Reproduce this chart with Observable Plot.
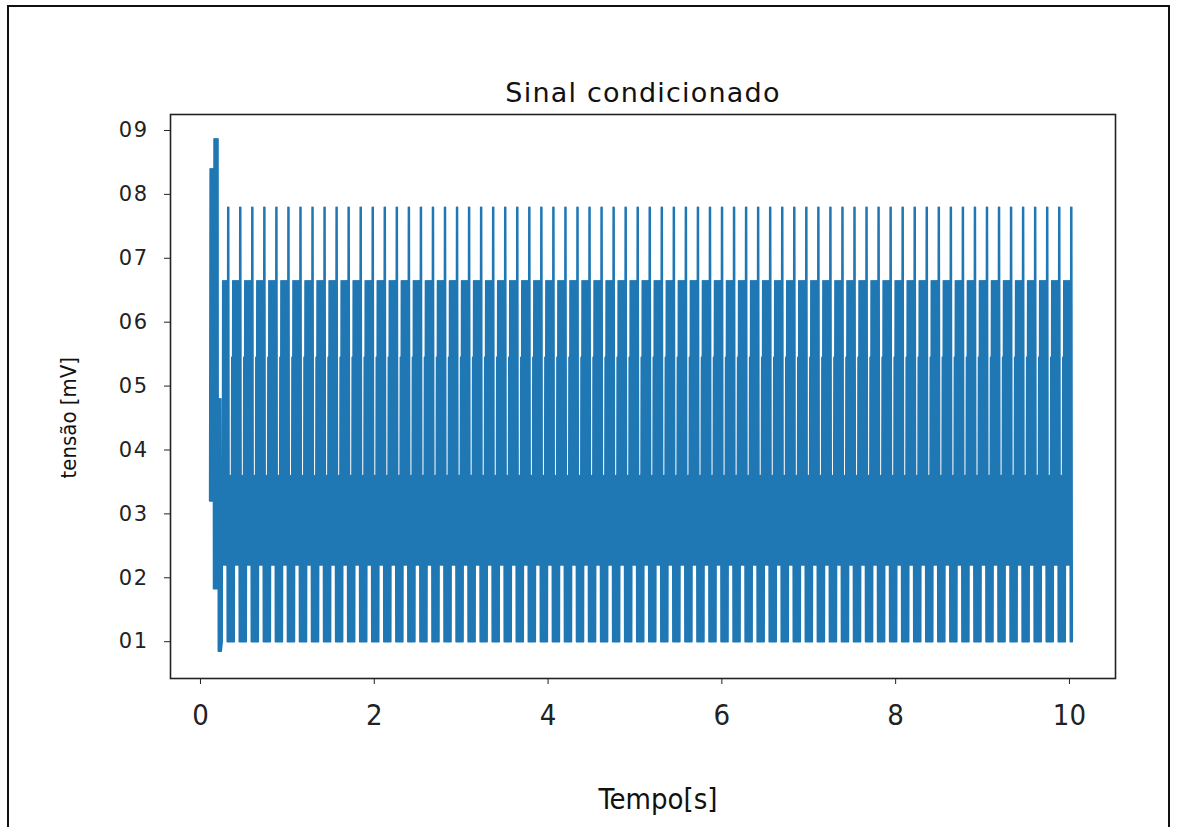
<!DOCTYPE html>
<html><head><meta charset="utf-8">
<script src="https://cdn.jsdelivr.net/npm/d3@7"></script>
<script src="https://cdn.jsdelivr.net/npm/@observablehq/plot@0.6"></script>
<style>
html,body{margin:0;padding:0;background:#fff;}
#wrap{position:relative;width:1177px;height:827px;overflow:hidden;background:#fff;}
#border{position:absolute;left:7px;top:5px;width:1159px;height:850px;border:2px solid #111;pointer-events:none;}
</style></head><body><div id="wrap"><div id="border"></div></div>
<script>
// ---- text ----
const titleText = "Sinal condicionado";
const xLabelText = "Tempo[s]";
const yLabelText = "tensão [mV]";
const xTicks = [0, 2, 4, 6, 8, 10];
const yTicks = [0.1, 0.2, 0.3, 0.4, 0.5, 0.6, 0.7, 0.8, 0.9];
const yTickLabels = ["01", "02", "03", "04", "05", "06", "07", "08", "09"];
const xDomain = [-0.345, 10.53];
const yDomain = [0.0424, 0.925];

// ---- start-up transient (time window, upper and lower level of the fast oscillation) ----
const transientFrom  = [0.105, 0.150, 0.205];
const transientTo    = [0.150, 0.205, 0.245];
const transientUpper = [0.84, 0.887, 0.48];
const transientLower = [0.32, 0.183, 0.085];

// ---- repeating cycle ----
const cycleStart = 0.198;     // s
const cyclePeriod = 0.1386;   // s
const cycleCount = 71;
const samplesPerCycle = 24;
// segments inside one cycle (fraction of period where each starts)
const segFrom  = [0.00, 0.125, 0.25, 0.45, 0.75, 0.79];
const segUpper = [0.36, 0.545, 0.665, 0.665, 0.665, 0.78];
const segLower = [0.10, 0.10, 0.10, 0.22, 0.10, 0.10];

// ---- build the line's table from the arrays above ----
const dt = cyclePeriod / samplesPerCycle;
const data = [];
let n = 0;
for (let s = 0; s < transientFrom.length; s++) {
  for (let t = transientFrom[s]; t < transientTo[s] - 1e-9; t += dt) {
    data.push({t, v: (n++ % 2 === 0) ? transientLower[s] : transientUpper[s]});
  }
}
const tEnd = transientTo[transientTo.length - 1];
for (let k = 0; k < cycleCount; k++) {
  for (let j = 0; j < samplesPerCycle; j++) {
    const frac = j / samplesPerCycle;
    const t = cycleStart + (k + frac) * cyclePeriod;
    if (t < tEnd) continue;
    let s = 0;
    while (s + 1 < segFrom.length && frac >= segFrom[s + 1]) s++;
    data.push({t, v: (j % 2 === 0) ? segUpper[s] : segLower[s]});
  }
}

const condensed = "'DejaVu Sans Condensed', 'Liberation Sans Narrow', 'Roboto Condensed', 'DejaVu Sans', sans-serif";

const chart = Plot.plot({
  width: 1177, height: 827,
  marginLeft: 170, marginRight: 62, marginTop: 114, marginBottom: 149,
  style: {background: "transparent", fontFamily: "'DejaVu Sans', sans-serif", color: "#222"},
  x: {domain: xDomain},
  y: {domain: yDomain},
  marks: [
    Plot.line(data, {x: "t", y: "v", stroke: "#1f77b4", strokeWidth: 1.5}),
    Plot.frame({stroke: "#222", strokeWidth: 1.6}),
    Plot.axisX({ticks: xTicks, tickSize: 6, tickPadding: 20, tickFormat: d => String(d),
      label: null, fontSize: 29, fontFamily: condensed, stroke: "#222"}),
    Plot.axisY({ticks: yTicks, tickSize: 6, tickPadding: 16,
      tickFormat: d => yTickLabels[Math.round(d * 10) - 1],
      label: null, fontSize: 21, stroke: "#222"}),
    Plot.text([titleText], {frameAnchor: "top", dy: -13, lineAnchor: "bottom",
      fontSize: 27, fill: "#111"}),
    Plot.text([xLabelText], {frameAnchor: "bottom", dx: 15, dy: 130, lineAnchor: "bottom",
      fontSize: 29, fontFamily: condensed, fill: "#111"}),
    Plot.text([yLabelText], {frameAnchor: "left", dx: -102, dy: 82, rotate: -90,
      fontSize: 22, fontFamily: condensed, fill: "#111"})
  ]
});
d3.select(chart).selectAll("text")
  .filter(function() { return this.textContent === titleText; })
  .style("letter-spacing", "1.2px");
d3.select(chart).selectAll("text")
  .filter(function() { return /^0\d$/.test(this.textContent); })
  .style("letter-spacing", "1.5px");
document.getElementById("wrap").appendChild(chart);
</script></body></html>
